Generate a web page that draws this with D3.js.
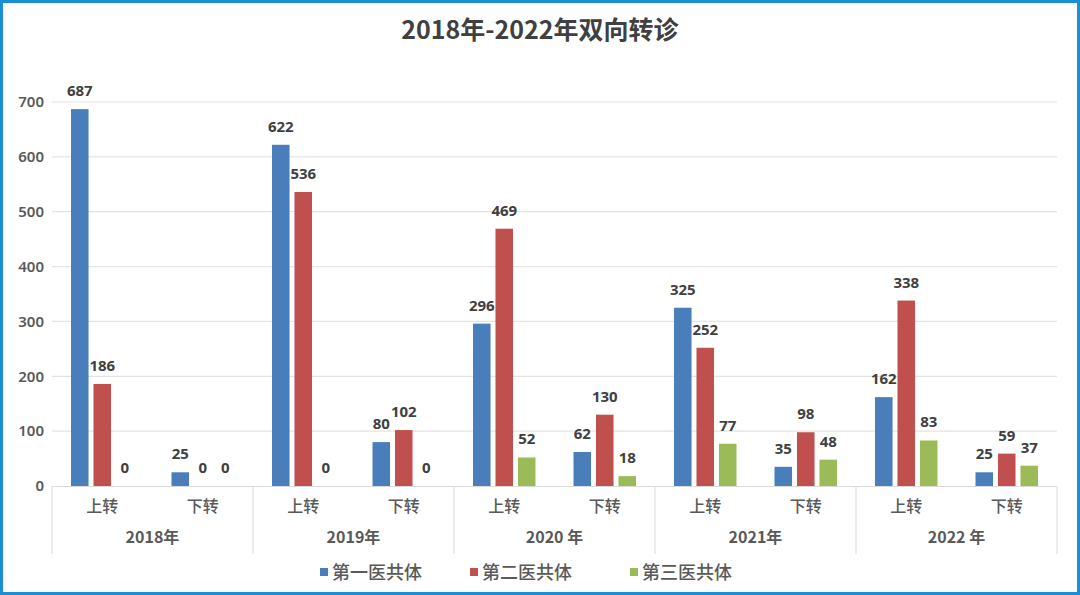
<!DOCTYPE html>
<html>
<head>
<meta charset="utf-8">
<script src="https://cdn.jsdelivr.net/npm/d3@7"></script>
<style>
  html, body { margin: 0; padding: 0; background: #fff; }
  svg { display: block; }
  text { font-family: "Noto Sans", "Noto Sans CJK SC", sans-serif; }
</style>
</head>
<body>
<div id="chart"></div>
<script>
// 2018-2022 two-way referral chart

const years = ["2018年", "2019年", "2020 年", "2021年", "2022 年"];
const directions = ["上转", "下转"];
const seriesNames = ["第一医共体", "第二医共体", "第三医共体"];
const seriesColors = ["#4a7ebb", "#c0504d", "#9bbb59"];

// values per category, in order 2018上转, 2018下转, 2019上转, ...
const firstGroup  = [687, 25, 622, 80, 296, 62, 325, 35, 162, 25];
const secondGroup = [186, 0, 536, 102, 469, 130, 252, 98, 338, 59];
const thirdGroup  = [0, 0, 0, 0, 52, 18, 77, 48, 83, 37];
const yTicks = [0, 100, 200, 300, 400, 500, 600, 700];

const W = 1080, H = 595;
const plot = {left: 52, right: 1057, top: 102, bottom: 486};

const svg = d3.select("#chart").append("svg")
    .attr("width", W)
    .attr("height", H);

// outer frame
svg.append("rect")
    .attr("x", 1.5).attr("y", 1.5)
    .attr("width", W - 3).attr("height", H - 3)
    .attr("fill", "#fff")
    .attr("stroke", "#1b8fd6")
    .attr("stroke-width", 3);

// title
svg.append("text")
    .attr("x", W / 2)
    .attr("y", 39)
    .attr("text-anchor", "middle")
    .style("font-family", "'Noto Sans CJK SC', sans-serif")
    .style("font-size", "25px")
    .style("font-weight", "bold")
    .style("fill", "#404040")
    .text("2018年-2022年双向转诊");

// build the flat category list
const cats = [];
years.forEach(y => directions.forEach(d => cats.push({year: y, dir: d, key: y + "|" + d})));
const seriesValues = [firstGroup, secondGroup, thirdGroup];

const x0 = d3.scaleBand()
    .domain(cats.map(c => c.key))
    .range([plot.left, plot.right]);

const x1 = d3.scaleBand()
    .domain(seriesNames)
    .range([19, x0.bandwidth() - 19])
    .paddingInner(0.22);

const yearScale = d3.scaleBand()
    .domain(years)
    .range([plot.left, plot.right]);

const y = d3.scaleLinear()
    .domain([0, 700])
    .range([plot.bottom, plot.top]);

// gridlines
svg.append("g")
    .selectAll("line")
    .data(yTicks.filter(t => t > 0))
    .enter()
    .append("line")
    .attr("x1", plot.left)
    .attr("x2", plot.right)
    .attr("y1", d => y(d))
    .attr("y2", d => y(d))
    .attr("stroke", "#e3e3e3")
    .attr("stroke-width", 1.2);

// y axis
const yAxis = svg.append("g")
    .attr("transform", `translate(${plot.left - 8},0)`)
    .call(d3.axisLeft(y).tickValues(yTicks).tickSize(0).tickPadding(0));
yAxis.select(".domain").remove();
yAxis.selectAll("text")
    .style("font-size", "15px")
    .style("font-weight", "600")
    .style("fill", "#595959");

// bars
const bars = svg.append("g");
cats.forEach((c, i) => {
    seriesNames.forEach((s, j) => {
        const v = seriesValues[j][i];
        const bx = x0(c.key) + x1(s);
        bars.append("rect")
            .attr("x", bx)
            .attr("y", y(v))
            .attr("width", x1.bandwidth())
            .attr("height", plot.bottom - y(v))
            .attr("fill", seriesColors[j]);
        bars.append("text")
            .attr("x", bx + x1.bandwidth() / 2)
            .attr("y", y(v) - 13)
            .attr("text-anchor", "middle")
            .style("font-size", "15px")
            .style("font-weight", "bold")
            .style("fill", "#404040")
            .text(v);
    });
});

// baseline
svg.append("line")
    .attr("x1", plot.left).attr("x2", plot.right)
    .attr("y1", plot.bottom + 0.5).attr("y2", plot.bottom + 0.5)
    .attr("stroke", "#d9d9d9")
    .attr("stroke-width", 1.2);

// year separators
const seps = years.map(yv => yearScale(yv)).concat([plot.right]);
svg.append("g")
    .selectAll("line")
    .data(seps)
    .enter()
    .append("line")
    .attr("x1", d => d).attr("x2", d => d)
    .attr("y1", plot.bottom)
    .attr("y2", 554)
    .attr("stroke", "#e0e0e0")
    .attr("stroke-width", 1.2);

// direction labels
svg.append("g")
    .selectAll("text")
    .data(cats)
    .enter()
    .append("text")
    .attr("x", d => x0(d.key) + x0.bandwidth() / 2)
    .attr("y", 512)
    .attr("text-anchor", "middle")
    .style("font-family", "'Noto Sans CJK SC', sans-serif")
    .style("font-size", "16px")
    .style("font-weight", "500")
    .style("fill", "#595959")
    .text(d => d.dir);

// year labels
svg.append("g")
    .selectAll("text")
    .data(years)
    .enter()
    .append("text")
    .attr("x", d => yearScale(d) + yearScale.bandwidth() / 2)
    .attr("y", 543)
    .attr("text-anchor", "middle")
    .style("font-family", "'Noto Sans CJK SC', sans-serif")
    .style("font-size", "16px")
    .style("font-weight", "bold")
    .style("fill", "#595959")
    .text(d => d);

// legend
const legendStarts = [320, 470, 630];
const legend = svg.append("g");
seriesNames.forEach((s, j) => {
    legend.append("rect")
        .attr("x", legendStarts[j])
        .attr("y", 568)
        .attr("width", 8)
        .attr("height", 8)
        .attr("fill", seriesColors[j]);
    legend.append("text")
        .attr("x", legendStarts[j] + 12)
        .attr("y", 579)
        .style("font-family", "'Noto Sans CJK SC', sans-serif")
        .style("font-size", "18px")
        .style("font-weight", "500")
        .style("fill", "#595959")
        .text(s);
});
</script>
</body>
</html>
